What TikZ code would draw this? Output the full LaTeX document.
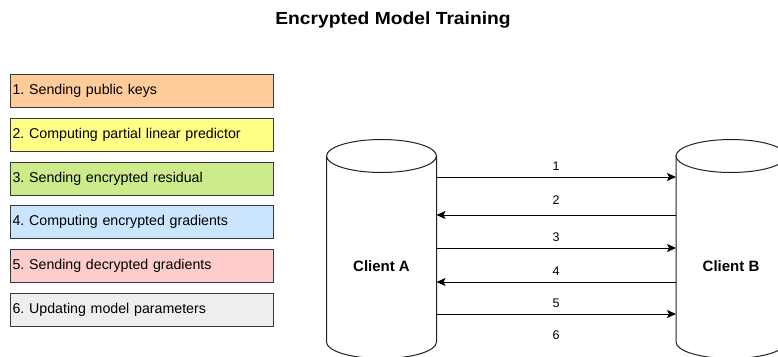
\documentclass[tikz,border=0pt]{standalone}
\usepackage{fontspec}
\usepackage{graphicx}
\setmainfont{Liberation Sans}
\usetikzlibrary{arrows.meta}

\definecolor{boxline}{HTML}{36393D}
\definecolor{fillkeys}{HTML}{FFCC99}
\definecolor{fillpred}{HTML}{FFFF88}
\definecolor{fillresid}{HTML}{CDEB8B}
\definecolor{fillgrad}{HTML}{CCE5FF}
\definecolor{filldec}{HTML}{FFCCCC}
\definecolor{fillupd}{HTML}{EEEEEE}
\definecolor{drumline}{HTML}{222222}

\begin{document}
\frenchspacing
\begin{tikzpicture}[x=1pt,y=-1pt,
  stepbox/.style={draw=boxline, line width=1.2pt, anchor=north west,
    text width=259pt, minimum height=33pt, inner sep=2pt, align=left,
    font=\fontsize{14.2}{17}\selectfont},
  clientlabel/.style={font=\bfseries\fontsize{15}{18}\selectfont},
  numlabel/.style={font=\fontsize{12.5}{14}\selectfont},
  conn/.style={draw=black, line width=1pt, -{Stealth[length=9pt,width=8pt,inset=2pt]}},
  drum/.style={draw=drumline, line width=1pt, fill=white}]

\useasboundingbox (0,0) rectangle (778,356);

% title
\node (title) at (393,20) {\scalebox{1.1}[1]{\bfseries\fontsize{17.5}{20}\selectfont Encrypted Model Training}};

% legend of the six steps
\node[stepbox, fill=fillkeys]  (s1) at (10,74)  {1. Sending public keys};
\node[stepbox, fill=fillpred]  (s2) at (10,118) {2. Computing partial linear predictor};
\node[stepbox, fill=fillresid] (s3) at (10,162) {3. Sending encrypted residual};
\node[stepbox, fill=fillgrad]  (s4) at (10,205) {4. Computing encrypted gradients};
\node[stepbox, fill=filldec]   (s5) at (10,249) {5. Sending decrypted gradients};
\node[stepbox, fill=fillupd]   (s6) at (10,293) {6. Updating model parameters};

% the two clients drawn as cylinders
\begin{scope}
  \clip (0,0) rectangle (778,356);
  \draw[drum] (326.5,156) -- (326.5,342)
    arc[start angle=180, end angle=360, x radius=55pt, y radius=16.5pt] -- (436.5,156);
  \draw[drum] (381.5,156) ellipse [x radius=55pt, y radius=16.5pt];
  \draw[drum] (676,156) -- (676,342)
    arc[start angle=180, end angle=360, x radius=55pt, y radius=16.5pt] -- (786,156);
  \draw[drum] (731,156) ellipse [x radius=55pt, y radius=16.5pt];
\end{scope}

\node[clientlabel] (A) at (381.5,266) {Client A};
\node[clientlabel] (B) at (731,266) {Client B};

% message endpoints on the cylinder walls
\foreach \i/\yy in {1/177, 2/215, 3/248, 4/282, 5/314} {
  \coordinate (A\i) at (436.5,\yy);
  \coordinate (B\i) at (676,\yy);
}

\draw[conn] (A1) -- (B1);
\draw[conn] (B2) -- (A2);
\draw[conn] (A3) -- (B3);
\draw[conn] (B4) -- (A4);
\draw[conn] (A5) -- (B5);

\node[numlabel] (n1) at (556,166) {1};
\node[numlabel] (n2) at (556,200) {2};
\node[numlabel] (n3) at (556,237) {3};
\node[numlabel] (n4) at (556,271) {4};
\node[numlabel] (n5) at (556,303) {5};
\node[numlabel] (n6) at (556,335) {6};

\end{tikzpicture}
\end{document}
